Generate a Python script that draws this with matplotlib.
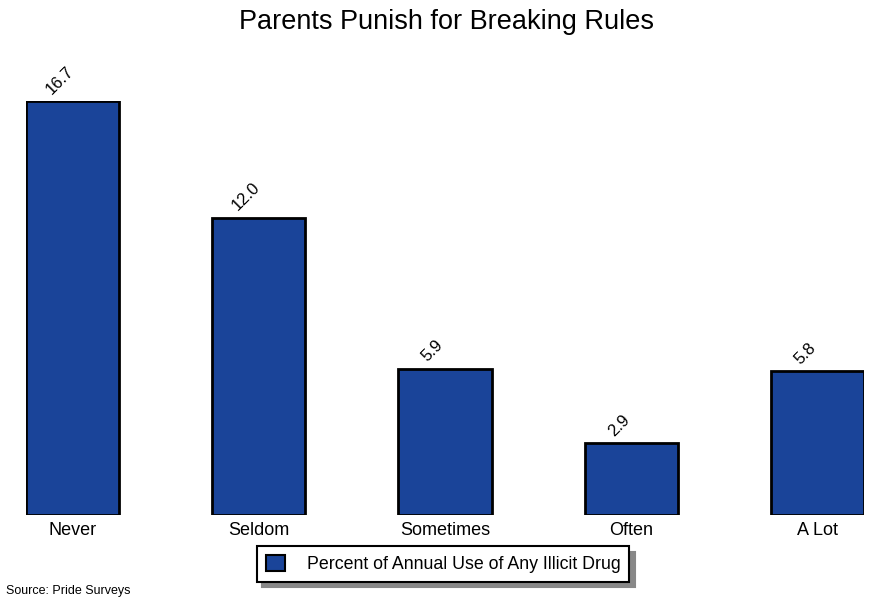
import matplotlib.pyplot as plt
from matplotlib.patches import Patch

plt.rcParams['font.family'] = ['Liberation Sans', 'DejaVu Sans']

categories = ['Never', 'Seldom', 'Sometimes', 'Often', 'A Lot']
values = [16.7, 12.0, 5.9, 2.9, 5.8]
labels = ['16.7', '12.0', '5.9', '2.9', '5.8']
series_name = 'Percent of Annual Use of Any Illicit Drug'
bar_color = '#1a4499'

fig = plt.figure(figsize=(8.72, 6.03), dpi=100)
ax = fig.add_axes([26 / 872, 1 - 515 / 603, 838 / 872, 414 / 603])

x = range(len(categories))
ax.bar(x, values, width=0.5, color=bar_color, edgecolor='black', linewidth=2)
ax.set_xlim(-0.25, 4.25)
ax.set_ylim(0, 16.7)

for xi, v, lab in zip(x, values, labels):
    ax.annotate(lab, (xi, v), xytext=(-9, 3), textcoords='offset points',
                ha='center', va='bottom', rotation=45, fontsize=12,
                annotation_clip=False)

ax.set_xticks(list(x))
ax.set_xticklabels(categories, fontsize=13)
ax.tick_params(axis='x', length=0, pad=5)
ax.set_yticks([])
for s in ax.spines.values():
    s.set_visible(False)

fig.text(446 / 872, 1 - 22 / 603, 'Parents Punish for Breaking Rules', ha='center', va='center', fontsize=19.5)
fig.text(6 / 872, 1 - 591 / 603, 'Source: Pride Surveys', ha='left', va='center', fontsize=9)

leg = fig.legend([Patch(facecolor=bar_color, edgecolor='black', linewidth=1.5)], [series_name],
                 loc='center', bbox_to_anchor=(443 / 872, 1 - 564 / 603), fontsize=12.8,
                 fancybox=False, edgecolor='black', framealpha=1,
                 shadow={'color': '#888888', 'alpha': 1, 'ox': 4, 'oy': -4},
                 handlelength=1.1, handleheight=1.0, handletextpad=1.2, borderpad=0.5)
leg.get_frame().set_linewidth(1.5)

fig.savefig('out.png', dpi=100)
